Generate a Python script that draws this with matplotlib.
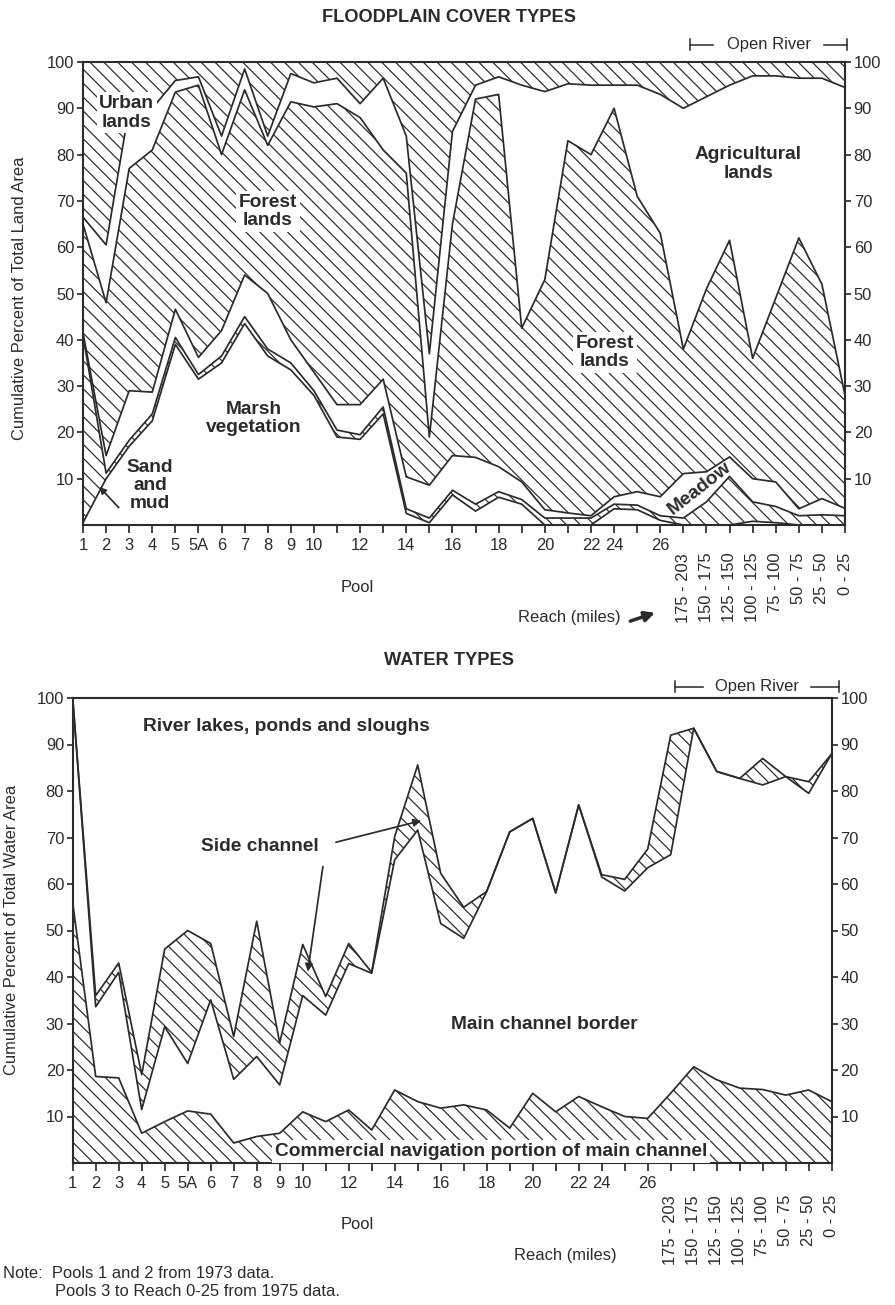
import numpy as np
import matplotlib.pyplot as plt
import matplotlib.transforms as mtransforms

plt.rcParams['font.family'] = ['Liberation Sans', 'DejaVu Sans']
plt.rcParams['hatch.linewidth'] = 0.7

ink = '#2b2b2b'

# ---- x categories: pools then open-river reaches ----
pool_ticks = ['1', '2', '3', '4', '5', '5A', '6', '7', '8', '9', '10', '', '12', '', '14', '',
              '16', '', '18', '', '20', '', '22', '24', '', '26']
reaches = ['175 - 203', '150 - 175', '125 - 150', '100 - 125', '75 - 100', '50 - 75', '25 - 50', '0 - 25']
x = np.arange(len(pool_ticks) + len(reaches))

# ---- floodplain cover, cumulative boundaries (percent) ----
marsh_top = [0.5, 10, 17, 22.5, 39, 31.5, 35, 43.5, 36.5, 33.5, 28, 19, 18.5, 24, 2.5, 0.5, 6.5, 3,
             6, 4.5, 0, 0, 0, 3.5, 3.3, 1, 0, 0, 0, 0.8, 0.5, 0, 0, 0]
sand_top = [41, 11.2, 18.3, 24, 40.5, 32.5, 36.5, 45, 38, 35, 29, 20.5, 19.5, 25.5, 3.5, 1.5, 7.5, 4.5,
            7.2, 5.5, 1.5, 1.5, 1.5, 4.5, 4.3, 2, 1.5, 5, 10.5, 5, 4, 2, 2.2, 2]
meadow_top = [41.5, 15, 29, 28.7, 46.6, 36.2, 42, 54, 50, 40, 33, 26, 26, 31.5, 10.4, 8.6, 15, 14.6,
              12.6, 9.3, 3.3, 2.6, 2, 6.1, 7.2, 6.1, 11.1, 11.5, 14.7, 10, 9.3, 3.5, 5.7, 3.6]
forest_top = [65, 48, 77, 81, 93.5, 95, 80, 94, 82, 91.4, 90.3, 91, 88, 81, 76, 19, 65, 92,
              93, 42.5, 53, 83, 80, 90, 71, 63, 38, 51, 61.5, 36, 49, 62, 52, 28]
agri_top = [66.5, 60.5, 90, 90, 96, 96.8, 84, 98.5, 84, 97.5, 95.5, 96.5, 91, 96.5, 84, 37, 85, 95,
            96.8, 95, 93.6, 95.3, 95, 95, 95, 93, 90, 92.5, 95, 97, 97, 96.5, 96.5, 94.5]

# ---- water types, cumulative boundaries (percent) ----
nav_top = [56, 18.6, 18.3, 6.4, 8.9, 11.2, 10.5, 4.3, 5.7, 6.4, 11, 8.9, 11.4, 7.1, 15.7, 13.2, 11.8,
           12.5, 11.4, 7.5, 15, 11, 14.3, 12.1, 10, 9.6, 15, 20.7, 17.9, 16.1, 15.8, 14.6, 15.7, 13.2]
border_top = [100, 33.6, 41, 11.5, 29.3, 21.4, 35.1, 18, 22.9, 16.8, 36, 31.8, 42.9, 40.8, 65.2, 71.6,
              51.5, 48.3, 58.4, 71.2, 74.1, 58.1, 77, 61.5, 58.5, 63.5, 66.3, 93.5, 84.2, 82.7, 81.3,
              83.1, 79.5, 88]
side_top = [100, 36, 43, 19, 46, 50, 47.2, 27.2, 52, 25.8, 47, 35.8, 47.2, 41, 70.2, 85.6, 62.3, 55,
            58.4, 71.2, 74.1, 58.1, 77, 62, 61, 67.5, 92, 93.5, 84.2, 82.7, 87, 83.1, 82, 88]

fig = plt.figure(figsize=(7.16, 10.44), dpi=125)


def layer(ax, lo, hi, hatched):
    ax.fill_between(x, lo, hi, facecolor='white', edgecolor=ink if hatched else 'none',
                    hatch='\\\\\\' if hatched else None, linewidth=0)


def frame(ax, bracket, reach_y, pool_xy, reach_xy, arrow):
    ax.set_xlim(0, x[-1])
    ax.set_ylim(0, 100)
    for s in ax.spines.values():
        s.set_color(ink)
        s.set_linewidth(1.2)
    ax.set_yticks(range(10, 101, 10))
    ax.yaxis.set_ticks_position('both')
    ax.tick_params(axis='y', direction='out', length=3.5, width=1, colors=ink,
                   labelleft=True, labelright=True, labelsize=9.5, pad=1.5)
    ax.set_xticks(x)
    ax.set_xticklabels(pool_ticks + [''] * len(reaches))
    ax.tick_params(axis='x', direction='out', length=4.5, width=1, colors=ink, labelsize=9.5, pad=3)
    tr = mtransforms.blended_transform_factory(ax.transData, ax.transAxes)
    for xi, lab in zip(x[len(pool_ticks):], reaches):
        ax.text(xi, reach_y, lab, rotation=90, ha='center', va='top', fontsize=9.5,
                color=ink, transform=tr)
    ax.text(pool_xy[0], pool_xy[1], 'Pool', ha='center', va='center', fontsize=9.5,
            color=ink, transform=ax.transAxes)
    ax.text(reach_xy[0], reach_xy[1], 'Reach (miles)', ha='center', va='center',
            fontsize=9.5, color=ink, transform=ax.transAxes)
    if arrow:
        ax.annotate('', xy=(0.755, -0.187), xytext=(0.714, -0.21), xycoords='axes fraction',
                    arrowprops=dict(arrowstyle='-|>', color=ink, lw=2.0, mutation_scale=12))
    # Open River bracket
    yy, x0, x1, xm, g0, g1 = bracket
    ax.plot([x0, g0], [yy, yy], color=ink, lw=0.9, transform=tr, clip_on=False)
    ax.plot([g1, x1], [yy, yy], color=ink, lw=0.9, transform=tr, clip_on=False)
    for xe in (x0, x1):
        ax.plot([xe, xe], [yy - 0.012, yy + 0.012], color=ink, lw=0.9, transform=tr, clip_on=False)
    ax.text(xm, yy, 'Open River', ha='center', va='center', fontsize=9.5, color=ink, transform=tr)


# =================== FLOODPLAIN COVER TYPES ===================
ax1 = fig.add_axes([83 / 895, 1 - 525 / 1305, 762 / 895, 463 / 1305])
zero = np.zeros(len(x))
full = np.full(len(x), 100.0)
layer(ax1, zero, marsh_top, False)
layer(ax1, marsh_top, sand_top, True)
layer(ax1, sand_top, meadow_top, False)
layer(ax1, meadow_top, forest_top, True)
layer(ax1, forest_top, agri_top, False)
layer(ax1, agri_top, full, True)
for b in (marsh_top, sand_top, meadow_top, forest_top, agri_top):
    ax1.plot(x, b, color=ink, lw=1.0)
frame(ax1, (1.037, 26.3, 33.1, 29.7, 27.3, 32.1), -0.06, (0.36, -0.134), (0.638, -0.2), True)

lab = dict(fontsize=11, fontweight='bold', color=ink, ha='center', va='center', linespacing=1.1)
box = dict(boxstyle='square,pad=0.15', facecolor='white', edgecolor='none')
ax1.text(1.9, 89, 'Urban\nlands', bbox=box, **lab)
ax1.text(8.0, 67.7, 'Forest\nlands', bbox=box, **lab)
ax1.text(28.8, 78, 'Agricultural\nlands', **lab)
ax1.text(22.6, 37.2, 'Forest\nlands', bbox=box, **lab)
ax1.text(7.4, 23, 'Marsh\nvegetation', **lab)
ax1.text(2.9, 8.5, 'Sand\nand\nmud', bbox=box, **lab)
ax1.text(26.7, 8, 'Meadow', rotation=38, **lab)
ax1.annotate('', xy=(0.6, 8.8), xytext=(1.65, 3.2),
             arrowprops=dict(arrowstyle='-|>', color=ink, lw=1.0, mutation_scale=8))

fig.text(449 / 895, 1 - 18 / 1305, 'FLOODPLAIN COVER TYPES', ha='center', va='center',
         fontsize=10.5, fontweight='bold', color=ink)
fig.text(20 / 895, 1 - 298 / 1305, 'Cumulative Percent of Total Land Area', rotation=90,
         ha='center', va='center', fontsize=9.5, color=ink)

# =================== WATER TYPES ===================
ax2 = fig.add_axes([72.7 / 895, 1 - 1163 / 1305, 759 / 895, 465 / 1305])
layer(ax2, zero, nav_top, True)
layer(ax2, nav_top, border_top, False)
layer(ax2, border_top, side_top, True)
layer(ax2, side_top, full, False)
for b in (nav_top, border_top, side_top):
    ax2.plot(x, b, color=ink, lw=1.0)
frame(ax2, (1.024, 26.2, 33.3, 29.75, 27.4, 32.1), -0.069, (0.3746, -0.133), (0.649, -0.198), False)

ax2.text(9.3, 93.8, 'River lakes, ponds and sloughs', **lab)
ax2.text(8.15, 68, 'Side channel', **lab)
ax2.text(20.5, 29.7, 'Main channel border', **lab)
ax2.text(18.2, 2.4, 'Commercial navigation portion of main channel', bbox=box, **lab)
ax2.annotate('', xy=(15.3, 73.8), xytext=(11.3, 68.8),
             arrowprops=dict(arrowstyle='-|>', color=ink, lw=1.0, mutation_scale=9))
ax2.annotate('', xy=(10.2, 40.4), xytext=(10.9, 64.5),
             arrowprops=dict(arrowstyle='-|>', color=ink, lw=1.0, mutation_scale=9))

fig.text(449 / 895, 1 - 660 / 1305, 'WATER TYPES', ha='center', va='center',
         fontsize=10.5, fontweight='bold', color=ink)
fig.text(12 / 895, 1 - 930 / 1305, 'Cumulative Percent of Total Water Area', rotation=90,
         ha='center', va='center', fontsize=9.5, color=ink)

fig.text(3 / 895, 1 - 1273 / 1305, 'Note:  Pools 1 and 2 from 1973 data.', ha='left', va='center',
         fontsize=9.5, color=ink)
fig.text(55 / 895, 1 - 1292 / 1305, 'Pools 3 to Reach 0-25 from 1975 data.', ha='left', va='center',
         fontsize=9.5, color=ink)

fig.savefig('out.png', dpi=125, facecolor='white')
